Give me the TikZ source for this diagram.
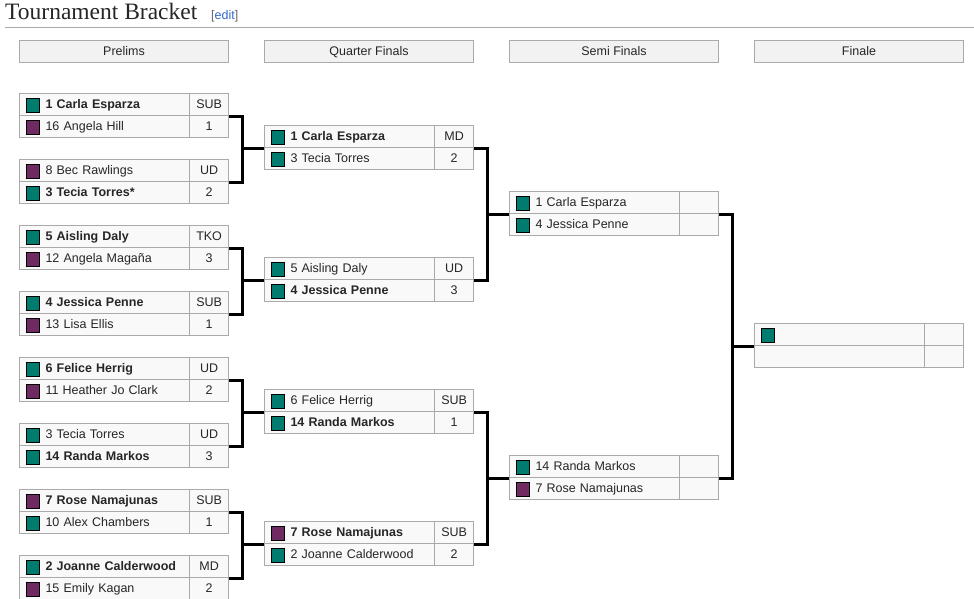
\documentclass[tikz,border=0pt]{standalone}
\usepackage{fontspec}
\setmainfont{Liberation Sans}
\newfontfamily\headfont{Liberation Serif}
\usetikzlibrary{calc}
\definecolor{tl}{RGB}{0,124,110}
\definecolor{pu}{RGB}{112,42,98}
\definecolor{cellbg}{RGB}{249,249,249}
\definecolor{hdrbg}{RGB}{242,242,242}
\definecolor{bdr}{RGB}{170,170,170}
\definecolor{lnk}{RGB}{51,102,204}
\newcommand{\sq}[1]{\raisebox{-3.2pt}{\fboxsep=0pt\fboxrule=0.8pt\fcolorbox{black}{#1}{\rule{12.8pt}{0pt}\rule{0pt}{12.8pt}}}\hspace{5.5pt}}
\tikzset{
    team/.style={rectangle,draw=bdr,line width=1.2pt,fill=cellbg,anchor=north west,minimum width=170pt,minimum height=22pt,text width=158pt,inner xsep=6pt,inner ysep=0pt,text height=10pt,text depth=2pt,font=\fontsize{12.5}{14}\selectfont,text=black!85,align=left},
    score/.style={rectangle,draw=bdr,line width=1.2pt,fill=cellbg,anchor=north west,minimum width=39pt,minimum height=22pt,inner sep=0pt,text height=10pt,text depth=2pt,font=\fontsize{12.5}{14}\selectfont,text=black!85},
    hdr/.style={rectangle,draw=bdr,line width=1pt,fill=hdrbg,anchor=north west,minimum width=209pt,minimum height=22pt,inner sep=0pt,text height=10pt,text depth=2pt,font=\fontsize{12.5}{14}\selectfont,text=black!85},
    brk/.style={line width=3pt,black},
}

\begin{document}
\begin{tikzpicture}[x=1pt,y=-1pt]
\useasboundingbox (0,0) rectangle (974,599);
\node[anchor=base west,inner sep=0pt,font=\headfont\fontsize{23.5}{26}\selectfont,text=black!85] (title) at (5,20) {Tournament Bracket};
\node[anchor=base west,inner sep=0pt,font=\fontsize{12.5}{14}\selectfont,text=black!60] (edit) at (211,20) {[\textcolor{lnk}{edit}]};
\draw[bdr,line width=1pt] (5,27.5) -- (974,27.5);
% round headers
\node[hdr] (h1) at (19,40) {Prelims};
\node[hdr] (h2) at (264,40) {Quarter Finals};
\node[hdr] (h3) at (509,40) {Semi Finals};
\node[hdr] (h4) at (754,40) {Finale};
% prelims
\node[team] (m1a) at (19,93) {\sq{tl}\textbf{1 Carla Esparza}};
\node[score] (m1as) at (189,93) {SUB};
\node[team] (m1b) at (19,115) {\sq{pu}16 Angela Hill};
\node[score] (m1bs) at (189,115) {1};
\node[team] (m2a) at (19,159) {\sq{pu}8 Bec Rawlings};
\node[score] (m2as) at (189,159) {UD};
\node[team] (m2b) at (19,181) {\sq{tl}\textbf{3 Tecia Torres*}};
\node[score] (m2bs) at (189,181) {2};
\node[team] (m3a) at (19,225) {\sq{tl}\textbf{5 Aisling Daly}};
\node[score] (m3as) at (189,225) {TKO};
\node[team] (m3b) at (19,247) {\sq{pu}12 Angela Magaña};
\node[score] (m3bs) at (189,247) {3};
\node[team] (m4a) at (19,291) {\sq{tl}\textbf{4 Jessica Penne}};
\node[score] (m4as) at (189,291) {SUB};
\node[team] (m4b) at (19,313) {\sq{pu}13 Lisa Ellis};
\node[score] (m4bs) at (189,313) {1};
\node[team] (m5a) at (19,357) {\sq{tl}\textbf{6 Felice Herrig}};
\node[score] (m5as) at (189,357) {UD};
\node[team] (m5b) at (19,379) {\sq{pu}11 Heather Jo Clark};
\node[score] (m5bs) at (189,379) {2};
\node[team] (m6a) at (19,423) {\sq{tl}3 Tecia Torres};
\node[score] (m6as) at (189,423) {UD};
\node[team] (m6b) at (19,445) {\sq{tl}\textbf{14 Randa Markos}};
\node[score] (m6bs) at (189,445) {3};
\node[team] (m7a) at (19,489) {\sq{pu}\textbf{7 Rose Namajunas}};
\node[score] (m7as) at (189,489) {SUB};
\node[team] (m7b) at (19,511) {\sq{tl}10 Alex Chambers};
\node[score] (m7bs) at (189,511) {1};
\node[team] (m8a) at (19,555) {\sq{tl}\textbf{2 Joanne Calderwood}};
\node[score] (m8as) at (189,555) {MD};
\node[team] (m8b) at (19,577) {\sq{pu}15 Emily Kagan};
\node[score] (m8bs) at (189,577) {2};
% quarter finals
\node[team] (q1a) at (264,125) {\sq{tl}\textbf{1 Carla Esparza}};
\node[score] (q1as) at (434,125) {MD};
\node[team] (q1b) at (264,147) {\sq{tl}3 Tecia Torres};
\node[score] (q1bs) at (434,147) {2};
\node[team] (q2a) at (264,257) {\sq{tl}5 Aisling Daly};
\node[score] (q2as) at (434,257) {UD};
\node[team] (q2b) at (264,279) {\sq{tl}\textbf{4 Jessica Penne}};
\node[score] (q2bs) at (434,279) {3};
\node[team] (q3a) at (264,389) {\sq{tl}6 Felice Herrig};
\node[score] (q3as) at (434,389) {SUB};
\node[team] (q3b) at (264,411) {\sq{tl}\textbf{14 Randa Markos}};
\node[score] (q3bs) at (434,411) {1};
\node[team] (q4a) at (264,521) {\sq{pu}\textbf{7 Rose Namajunas}};
\node[score] (q4as) at (434,521) {SUB};
\node[team] (q4b) at (264,543) {\sq{tl}2 Joanne Calderwood};
\node[score] (q4bs) at (434,543) {2};
% semi finals
\node[team] (s1a) at (509,191) {\sq{tl}1 Carla Esparza};
\node[score] (s1as) at (679,191) {};
\node[team] (s1b) at (509,213) {\sq{tl}4 Jessica Penne};
\node[score] (s1bs) at (679,213) {};
\node[team] (s2a) at (509,455) {\sq{tl}14 Randa Markos};
\node[score] (s2as) at (679,455) {};
\node[team] (s2b) at (509,477) {\sq{pu}7 Rose Namajunas};
\node[score] (s2bs) at (679,477) {};
% finale
\node[team] (fa) at (754,323) {\sq{tl}};
\node[score] (fas) at (924,323) {};
\node[team] (fb) at (754,345) {};
\node[score] (fbs) at (924,345) {};
% bracket lines
\draw[brk] (m1as.south east) -| ([xshift=-22pt]q1a.south west) |- (m2as.south east);
\draw[brk] ([xshift=-22pt]q1a.south west) -- (q1a.south west);
\draw[brk] (m3as.south east) -| ([xshift=-22pt]q2a.south west) |- (m4as.south east);
\draw[brk] ([xshift=-22pt]q2a.south west) -- (q2a.south west);
\draw[brk] (m5as.south east) -| ([xshift=-22pt]q3a.south west) |- (m6as.south east);
\draw[brk] ([xshift=-22pt]q3a.south west) -- (q3a.south west);
\draw[brk] (m7as.south east) -| ([xshift=-22pt]q4a.south west) |- (m8as.south east);
\draw[brk] ([xshift=-22pt]q4a.south west) -- (q4a.south west);
\draw[brk] (q1as.south east) -| ([xshift=-22pt]s1a.south west) |- (q2as.south east);
\draw[brk] ([xshift=-22pt]s1a.south west) -- (s1a.south west);
\draw[brk] (q3as.south east) -| ([xshift=-22pt]s2a.south west) |- (q4as.south east);
\draw[brk] ([xshift=-22pt]s2a.south west) -- (s2a.south west);
\draw[brk] (s1as.south east) -| ([xshift=-22pt]fa.south west) |- (s2as.south east);
\draw[brk] ([xshift=-22pt]fa.south west) -- (fa.south west);
\end{tikzpicture}
\end{document}
